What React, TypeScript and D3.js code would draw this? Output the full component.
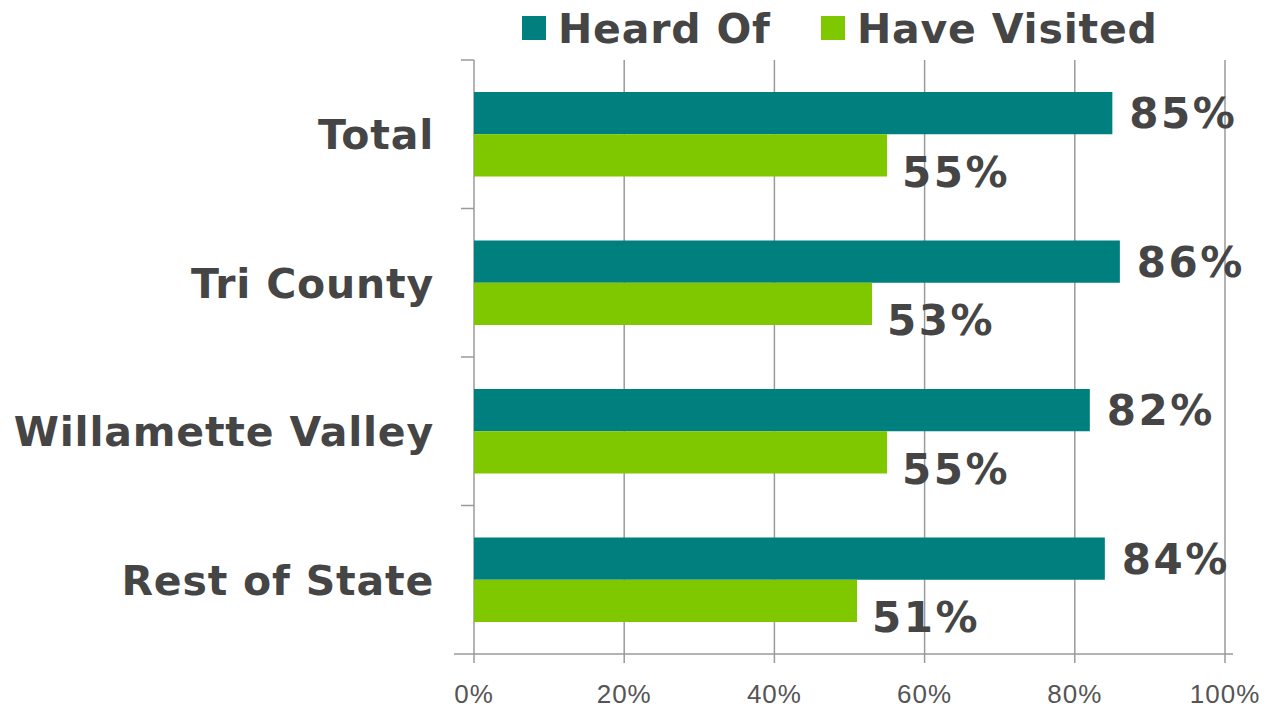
import React from "react";
import * as d3 from "d3";

const categories = ["Total", "Tri County", "Willamette Valley", "Rest of State"];
const heardOf = [85, 86, 82, 84];
const haveVisited = [55, 53, 55, 51];
const seriesNames = ["Heard Of", "Have Visited"];
const tickValues = [0, 20, 40, 60, 80, 100];

const colors = ["#007f7f", "#7fc800"];
const textColor = "#454545";
const axisColor = "#9a9a9a";

const dims = {
    width: 1270,
    height: 710,
    left: 474,
    right: 1225,
    top: 60,
    bottom: 654
};

const x = d3.scaleLinear().domain([0, 100]).range([dims.left, dims.right]);
const y = d3
    .scaleBand()
    .domain(categories)
    .range([dims.top, dims.bottom])
    .paddingInner(0)
    .paddingOuter(0);
const barPad = 32;

export default function App() {
    const band = y.bandwidth();
    const barH = (band - 2 * barPad) / 2;
    const bold = "'DejaVu Sans', Verdana, sans-serif";

    return (
        <div style={{ position: "absolute", left: 0, top: 0 }}>
            <svg width={dims.width} height={dims.height} style={{ display: "block" }}>
                <rect width={dims.width} height={dims.height} fill="#fff" />

                {/* gridlines */}
                {tickValues.slice(1).map(t => (
                    <line
                        key={"g" + t}
                        x1={x(t)}
                        x2={x(t)}
                        y1={dims.top}
                        y2={dims.bottom + 9}
                        stroke={axisColor}
                        strokeWidth={1.5}
                    />
                ))}

                {/* category axis */}
                <line
                    x1={x(0)}
                    x2={x(0)}
                    y1={dims.top}
                    y2={dims.bottom + 9}
                    stroke={axisColor}
                    strokeWidth={1.5}
                />
                {categories.map((c, i) => (
                    <line
                        key={"ct" + i}
                        x1={x(0) - 13}
                        x2={x(0)}
                        y1={y(c)}
                        y2={y(c)}
                        stroke={axisColor}
                        strokeWidth={1.5}
                    />
                ))}
                <line
                    x1={x(0) - 20}
                    x2={x(100) + 8}
                    y1={dims.bottom}
                    y2={dims.bottom}
                    stroke={axisColor}
                    strokeWidth={1.5}
                />

                {/* bars */}
                {categories.map((c, i) => {
                    const y0 = y(c) + barPad;
                    return (
                        <g key={c}>
                            <rect
                                x={x(0)}
                                y={y0}
                                width={x(heardOf[i]) - x(0)}
                                height={barH}
                                fill={colors[0]}
                            />
                            <rect
                                x={x(0)}
                                y={y0 + barH}
                                width={x(haveVisited[i]) - x(0)}
                                height={barH}
                                fill={colors[1]}
                            />
                            <text
                                x={x(heardOf[i]) + 17}
                                y={y0 + barH / 2 + 15}
                                fontFamily={bold}
                                fontWeight="bold"
                                fontSize={42}
                                letterSpacing={2.5}
                                fill={textColor}
                            >
                                {heardOf[i] + "%"}
                            </text>
                            <text
                                x={x(haveVisited[i]) + 15}
                                y={y0 + 2 * barH + 10}
                                fontFamily={bold}
                                fontWeight="bold"
                                fontSize={42}
                                letterSpacing={2.5}
                                fill={textColor}
                            >
                                {haveVisited[i] + "%"}
                            </text>
                            <text
                                x={434}
                                y={y(c) + band / 2 + 15}
                                textAnchor="end"
                                fontFamily={bold}
                                fontWeight="bold"
                                fontSize={41}
                                letterSpacing={0.8}
                                fill={textColor}
                            >
                                {c}
                            </text>
                        </g>
                    );
                })}

                {/* x tick labels */}
                {tickValues.map(t => (
                    <text
                        key={"t" + t}
                        x={x(t)}
                        y={703}
                        textAnchor="middle"
                        fontFamily="'Liberation Sans', sans-serif"
                        fontSize={26}
                        letterSpacing={1}
                        fill="#555"
                    >
                        {t + "%"}
                    </text>
                ))}

                {/* legend */}
                {seriesNames.map((s, i) => {
                    const lx = i === 0 ? 522 : 821;
                    return (
                        <g key={s}>
                            <rect x={lx} y={16} width={24} height={24} fill={colors[i]} />
                            <text
                                x={lx + 36}
                                y={43}
                                fontFamily={bold}
                                fontWeight="bold"
                                fontSize={41}
                                letterSpacing={0.8}
                                fill={textColor}
                            >
                                {s}
                            </text>
                        </g>
                    );
                })}
            </svg>
        </div>
    );
}
